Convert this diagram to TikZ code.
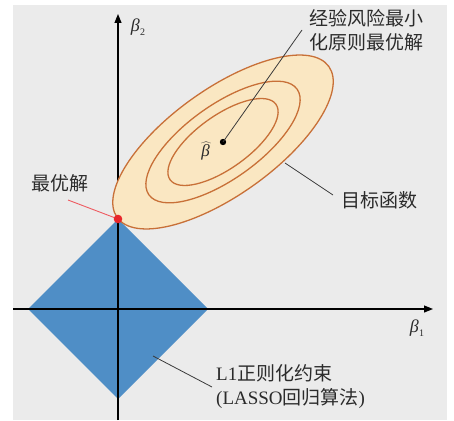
\documentclass[tikz,border=0pt]{standalone}
\usepackage{fontspec}
\setmainfont{Liberation Serif}
\newfontfamily\cjk{Noto Sans CJK SC}
\usetikzlibrary{arrows.meta}
\definecolor{bg}{HTML}{EBEBEB}
\definecolor{diamondblue}{HTML}{4F8EC6}
\definecolor{ellfill}{HTML}{FAE7C2}
\definecolor{ellline}{HTML}{C87038}
\definecolor{reddot}{HTML}{E8262B}
\definecolor{redline}{HTML}{EE5A60}
\definecolor{leadgray}{HTML}{3A3A3A}
\definecolor{txtgray}{HTML}{2B2B2B}
\newcommand{\betasub}[1]{\fontsize{18}{18}\selectfont\itshape β\kern0.5pt\raisebox{-4.5pt}{\fontsize{10}{10}\selectfont\upshape #1}}
\begin{document}
\begin{tikzpicture}[x=1pt,y=1pt,
  axis/.style={line width=1.1pt, -{Triangle[length=9pt,width=7pt]}},
  contour/.style={draw=ellline, line width=1.3pt},
  leader/.style={draw=leadgray, line width=0.8pt},
  lbl/.style={text=txtgray, font=\fontsize{19}{24}\selectfont\cjk, inner sep=0pt, anchor=west, align=left},
  mathlbl/.style={text=txtgray, inner sep=0pt}]
\useasboundingbox (0,0) rectangle (454,420);
\fill[bg] (13,0) rectangle (447,415);
% L1 constraint
\fill[diamondblue] (28,111) -- (118,201) -- (208,111) -- (118,21) -- cycle;
% axes
\coordinate (ybot) at (118,0);
\coordinate (ytop) at (118,406);
\coordinate (xl) at (13,111);
\coordinate (xr) at (433,111);
\draw[axis] (ybot) -- (ytop);
\draw[axis] (xl) -- (xr);
% objective contours
\coordinate (O) at (223,278);
\begin{scope}[shift={(O)}, rotate=35.5]
  \draw[contour, fill=ellfill] (0,0) ellipse [x radius=130, y radius=53];
  \draw[contour] (0,0) ellipse [x radius=91, y radius=37];
  \draw[contour] (0,0) ellipse [x radius=65, y radius=26.5];
\end{scope}
\fill[black] (O) circle (3.2);
% optimum
\coordinate (T) at (118,201);
\coordinate (R) at (68,220);
\draw[redline, line width=0.9pt] (R) -- (T);
\fill[reddot] (T) circle (4.3);
% labels
\node[mathlbl] (b2) at (138,393) {\betasub{2}};
\node[mathlbl] (b1) at (417,92) {\betasub{1}};
\node[mathlbl] (bh) at (206,269) {\fontsize{17}{17}\selectfont$\widehat{\hbox{\itshape\kern1pt β\kern2pt}}$};
\node[lbl] (t1) at (309,390) {经验风险最小\\化原则最优解};
\node[lbl] (t2) at (341,220) {目标函数};
\node[lbl] (t3) at (31,237) {最优解};
\node[lbl] (t4) at (216,33.5) {{\rmfamily L1}正则化约束\\{\rmfamily (LASSO}回归算法{\rmfamily )}};
% leaders
\coordinate (c1) at (302,390);
\coordinate (c2a) at (285,257);
\coordinate (c2b) at (333,225);
\coordinate (c3a) at (153,64);
\coordinate (c3b) at (212,33);
\draw[leader] (O) -- (c1);
\draw[leader] (c2a) -- (c2b);
\draw[leader] (c3a) -- (c3b);
\end{tikzpicture}
\end{document}
